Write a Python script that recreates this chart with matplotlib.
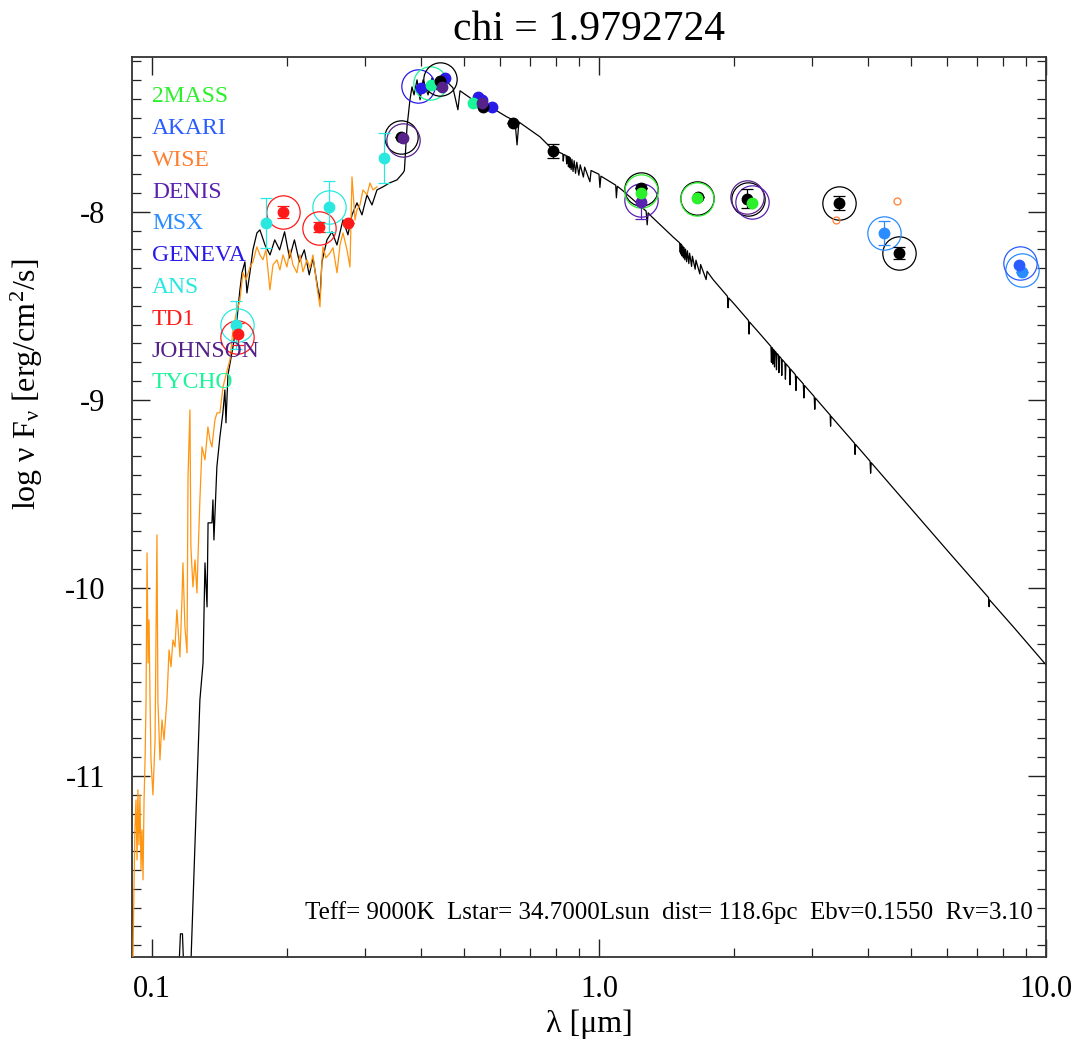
import numpy as np
import matplotlib
matplotlib.use("Agg")
import matplotlib.pyplot as plt
from matplotlib.ticker import MultipleLocator, FixedLocator, FuncFormatter, LogLocator, NullFormatter

plt.rcParams['font.family'] = ['Liberation Serif', 'DejaVu Serif']
plt.rcParams['mathtext.fontset'] = 'custom'
plt.rcParams['mathtext.rm'] = 'Liberation Serif'
plt.rcParams['mathtext.it'] = 'Liberation Serif:italic'
plt.rcParams['axes.unicode_minus'] = False

chi = 1.9792724
params_text = "Teff= 9000K  Lstar= 34.7000Lsun  dist= 118.6pc  Ebv=0.1550  Rv=3.10"

# survey names and their colours (legend, top left)
surveys = ['2MASS', 'AKARI', 'WISE', 'DENIS', 'MSX', 'GENEVA', 'ANS', 'TD1', 'JOHNSON', 'TYCHO']
survey_colors = ['#2bf02b', '#2a5cff', '#ff7f30', '#5a22b0', '#2a8cff',
                 '#2a1ae8', '#2ae8e0', '#ff1a1a', '#55228a', '#1af59a']

# IUE spectrum, wavelength [um] and log nu F_nu
iue_wave = [0.0907, 0.0912, 0.0916, 0.0921, 0.0926, 0.0930, 0.0935, 0.0940, 0.0945, 0.0950,
            0.0955, 0.0960, 0.0965, 0.0970, 0.0975, 0.0980, 0.0985, 0.0990, 0.0995, 0.1005,
            0.1016, 0.1026, 0.1031, 0.1042, 0.1053, 0.1064, 0.1080, 0.1092, 0.1103, 0.1114,
            0.1126, 0.1137, 0.1155, 0.1167, 0.1173, 0.1185, 0.1198, 0.1204, 0.1216, 0.1222,
            0.1235, 0.1248, 0.1261, 0.1267, 0.1280, 0.1294, 0.1314, 0.1334, 0.1348, 0.1362,
            0.1383, 0.1398, 0.1419, 0.1442, 0.1464, 0.1494, 0.1518, 0.1541, 0.1573, 0.1598,
            0.1623, 0.1657, 0.1682, 0.1717, 0.1744, 0.1771, 0.1799, 0.1836, 0.1865, 0.1904,
            0.1933, 0.1964, 0.2004, 0.2036, 0.2067, 0.2110, 0.2143, 0.2177, 0.2222, 0.2257,
            0.2292, 0.2340, 0.2376, 0.2401, 0.2413, 0.2450, 0.2502, 0.2541, 0.2594, 0.2634,
            0.2675, 0.2731, 0.2773, 0.2802, 0.2846, 0.2875, 0.2920, 0.2965, 0.3027, 0.3074,
            0.3122, 0.3187]
iue_flux = [-11.96, -11.553, -11.287, -11.128, -11.447, -11.074, -11.367, -11.101, -11.500, -11.287,
            -11.553, -11.128, -10.915, -10.596, -9.814, -10.399, -10.170, -10.596, -10.915, -11.101,
            -10.809, -9.718, -10.596, -10.915, -10.702, -10.809, -10.596, -10.330, -10.420, -10.277,
            -10.314, -10.117, -10.367, -10.064, -9.867, -10.207, -10.346, -9.410, -9.053, -9.782,
            -9.995, -9.851, -10.027, -9.851, -9.532, -9.250, -9.319, -9.144, -9.213, -9.250,
            -9.106, -9.069, -9.069, -8.931, -8.867, -8.787, -8.628, -8.548, -8.468, -8.324,
            -8.362, -8.293, -8.266, -8.186, -8.229, -8.255, -8.202, -8.415, -8.282, -8.255,
            -8.309, -8.229, -8.293, -8.202, -8.282, -8.324, -8.229, -8.319, -8.255, -8.298,
            -8.229, -8.399, -8.505, -8.255, -8.186, -8.245, -8.218, -8.191, -8.324, -8.176,
            -8.112, -8.202, -8.293, -7.814, -8.043, -7.989, -7.963, -7.883, -7.910, -7.846,
            -7.883, -7.867]

# Kurucz model, wavelength [um] and log nu F_nu (UV / optical part)
model_wave = [0.1140, 0.1158, 0.1170, 0.1185, 0.1222, 0.1280, 0.1301, 0.1314, 0.1328, 0.1335,
              0.1362, 0.1369, 0.1376, 0.1397, 0.1419, 0.1441, 0.1456, 0.1464, 0.1479, 0.1518,
              0.1549, 0.1573, 0.1590, 0.1614, 0.1631, 0.1656, 0.1682, 0.1717, 0.1744, 0.1790,
              0.1837, 0.1882, 0.1930, 0.1980, 0.2031, 0.2083, 0.2137, 0.2192, 0.2248, 0.2292,
              0.2352, 0.2375, 0.2400, 0.2463, 0.2527, 0.2593, 0.2675, 0.2744, 0.2802, 0.2875,
              0.2950, 0.3027, 0.3106, 0.3187, 0.3287, 0.3401, 0.3533, 0.3644, 0.3670, 0.3720,
              0.3777, 0.3817, 0.3857, 0.3917, 0.3979, 0.4041, 0.4146, 0.4232, 0.4342, 0.4407,
              0.4525, 0.4713, 0.4835, 0.4888, 0.5224, 0.5705, 0.6223, 0.6488, 0.6557, 0.6620,
              0.7379, 0.7889]
model_flux = [-12.20, -11.84, -11.84, -12.20, -12.00, -10.596, -10.399, -9.867, -10.101, -9.654,
              -9.654, -9.532, -9.745, -9.356, -9.197, -9.069, -8.947, -9.122, -8.867, -8.718,
              -8.574, -8.415, -8.324, -8.266, -8.431, -8.324, -8.202, -8.112, -8.096, -8.176,
              -8.229, -8.149, -8.202, -8.106, -8.245, -8.149, -8.266, -8.202, -8.335, -8.245,
              -8.415, -8.468, -8.266, -8.149, -8.106, -8.176, -8.043, -8.122, -8.016, -7.952,
              -8.016, -7.910, -7.963, -7.883, -7.867, -7.846, -7.830, -7.793, -7.780, -7.548,
              -7.404, -7.335, -7.378, -7.298, -7.404, -7.298, -7.378, -7.287, -7.351, -7.282,
              -7.298, -7.340, -7.457, -7.356, -7.404, -7.441, -7.495, -7.516, -7.644, -7.522,
              -7.601, -7.670]

# Kurucz model, infrared part with the hydrogen lines
model_ir_wave = [0.8200, 0.8300, 0.8320, 0.8345, 0.8440, 0.8467, 0.8490, 0.8520, 0.8545, 0.8570,
                 0.8598, 0.8625, 0.8665, 0.8700, 0.8750, 0.8800, 0.8863, 0.8920, 0.9015, 0.9080,
                 0.9229, 0.9290, 0.9546, 0.9600, 1.0000, 1.0049, 1.0100, 1.0900, 1.0938, 1.0990,
                 1.1253, 1.2750, 1.2818, 1.2880, 1.3138, 1.4640, 1.5150, 1.5195, 1.5240, 1.5262,
                 1.5300, 1.5346, 1.5390, 1.5443, 1.5500, 1.5561, 1.5620, 1.5705, 1.5770, 1.5885,
                 1.5950, 1.6114, 1.6180, 1.6412, 1.6480, 1.6811, 1.6880, 1.7367, 1.7450, 1.8000,
                 1.9380, 1.9446, 1.9510, 2.0000, 2.1600, 2.1661, 2.1720, 2.3000,
                 2.4250, 2.4310, 2.4370, 2.4440, 2.4490, 2.4540, 2.4650, 2.4700, 2.4750,
                 2.4900, 2.4953, 2.5010, 2.5210, 2.5264, 2.5320, 2.5580, 2.5640, 2.5700,
                 2.6060, 2.6126, 2.6190, 2.6680, 2.6751, 2.6820, 2.7500, 2.7583, 2.7660,
                 2.8650, 2.8730, 2.8810, 3.0300, 3.0392, 3.0480, 3.2900, 3.2970, 3.3040,
                 3.7300, 3.7405, 3.7500, 4.0400, 4.0523, 4.0650, 5.0000, 6.0000,
                 7.4400, 7.4598, 7.4800, 8.5000, 10.000]
model_ir_flux = [-7.686, -7.692, -7.730, -7.695, -7.700, -7.745, -7.703, -7.705, -7.760, -7.707,
                 -7.765, -7.712, -7.775, -7.720, -7.785, -7.728, -7.795, -7.736, -7.805, -7.750,
                 -7.815, -7.762, -7.840, -7.780, -7.800, -7.870, -7.810, -7.858, -7.925, -7.864,
                 -7.883, -7.996, -8.069, -8.005, -8.027, -8.133, -8.165, -8.215, -8.170, -8.225,
                 -8.175, -8.235, -8.182, -8.245, -8.190, -8.255, -8.198, -8.265, -8.207, -8.275,
                 -8.220, -8.290, -8.236, -8.305, -8.257, -8.330, -8.280, -8.360, -8.316, -8.360,
                 -8.449, -8.510, -8.458, -8.486, -8.578, -8.650, -8.586, -8.653,
                 -8.716, -8.800, -8.722, -8.725, -8.810, -8.731, -8.735, -8.825, -8.741,
                 -8.747, -8.840, -8.753, -8.762, -8.855, -8.768, -8.780, -8.870, -8.786,
                 -8.802, -8.890, -8.808, -8.830, -8.920, -8.836, -8.866, -8.950, -8.874,
                 -8.915, -8.990, -8.923, -8.982, -9.050, -8.990, -9.081, -9.140, -9.087,
                 -9.231, -9.290, -9.237, -9.326, -9.390, -9.334, -9.581, -9.798,
                 -10.052, -10.100, -10.064, -10.214, -10.409]

# ANS
ans_wave = [0.1541, 0.1799, 0.2489, 0.3304]
ans_flux = [-8.600, -8.059, -7.973, -7.713]
ans_err = [0.128, 0.133, 0.136, 0.133]
ans_mod_wave = [0.1549, 0.2489]
ans_mod_flux = [-8.601, -7.973]

# TD1
td1_wave = [0.1557, 0.1964, 0.2363, 0.2745]
td1_flux = [-8.649, -8.000, -8.080, -8.059]
td1_err = [0.06, 0.03, 0.025, 0.0]
td1_mod_wave = [0.1549, 0.1964, 0.2363]
td1_mod_flux = [-8.665, -8.000, -8.085]

# GENEVA
geneva_wave = [0.3998, 0.4521, 0.5361, 0.5473, 0.5762]
geneva_flux = [-7.340, -7.287, -7.388, -7.404, -7.441]
geneva_mod_wave = [0.3937]
geneva_mod_flux = [-7.330]

# TYCHO
tycho_wave = [0.4209, 0.5224]
tycho_flux = [-7.324, -7.420]
tycho_mod_wave = [0.4187]
tycho_mod_flux = [-7.314]

# JOHNSON
johnson_wave = [0.3644, 0.4452, 0.5473]
johnson_flux = [-7.606, -7.335, -7.420]
johnson_mod_wave = [0.3644, 2.143]
johnson_mod_flux = [-7.617, -7.920]

# other catalogue photometry (black)
other_wave = [0.3606, 0.4407, 0.5502, 0.6424, 0.7889, 1.2416, 1.665, 2.143, 3.443, 4.690]
other_flux = [-7.601, -7.303, -7.441, -7.527, -7.676, -7.872, -7.920, -7.931, -7.952, -8.218]
other_err = [0.0, 0.0, 0.0, 0.0, 0.037, 0.0, 0.0, 0.05, 0.037, 0.032]
other_mod_wave = [0.3606, 0.4407, 1.2416, 1.657, 2.150, 3.443, 4.690]
other_mod_flux = [-7.601, -7.293, -7.878, -7.926, -7.931, -7.952, -8.218]

# 2MASS
tmass_wave = [1.2416, 1.657, 2.199]
tmass_flux = [-7.899, -7.926, -7.952]
tmass_mod_wave = [1.2416, 1.657]
tmass_mod_flux = [-7.888, -7.931]

# DENIS
denis_wave = [1.2416]
denis_flux = [-7.947]
denis_err = [0.09]
denis_mod_wave = [1.2416, 2.199]
denis_mod_flux = [-7.936, -7.947]

# WISE (upper limits)
wise_wave = [3.390, 4.642]
wise_flux = [-8.043, -7.941]

# MSX
msx_wave = [4.341, 8.84]
msx_flux = [-8.112, -8.319]
msx_err = [0.064, 0.0]
msx_mod_wave = [4.341, 8.84]
msx_mod_flux = [-8.112, -8.309]

# AKARI
akari_wave = [8.70]
akari_flux = [-8.282]
akari_mod_wave = [8.75]
akari_mod_flux = [-8.271]

col = dict(zip(surveys, survey_colors))

fig = plt.figure(figsize=(10.78, 10.43), dpi=100)
ax = fig.add_axes([0.1224, 0.0825, 0.8479, 0.8629])

ax.plot(model_wave + model_ir_wave, model_flux + model_ir_flux, color='black', lw=0.9, zorder=2)
ax.plot(iue_wave, iue_flux, color='#ff9510', lw=0.9, zorder=3)


def phot(w, f, c, err=None, ms=7.5):
    if err is not None:
        ax.errorbar(w, f, yerr=err, fmt='none', ecolor=c, elinewidth=0.9,
                    capsize=4, capthick=0.9, zorder=5)
    ax.plot(w, f, 'o', color=c, ms=ms, mec=c, zorder=6)


def model_circle(w, f, c):
    ax.plot(w, f, 'o', mfc='none', mec=c, ms=24, mew=0.9, zorder=4)


phot(ans_wave, ans_flux, col['ANS'], ans_err)
model_circle(ans_mod_wave, ans_mod_flux, col['ANS'])
phot(td1_wave, td1_flux, col['TD1'], td1_err)
model_circle(td1_mod_wave, td1_mod_flux, col['TD1'])
phot(geneva_wave, geneva_flux, col['GENEVA'])
model_circle(geneva_mod_wave, geneva_mod_flux, col['GENEVA'])
phot(tycho_wave, tycho_flux, col['TYCHO'])
model_circle(tycho_mod_wave, tycho_mod_flux, col['TYCHO'])
phot(other_wave, other_flux, 'black', other_err)
model_circle(other_mod_wave, other_mod_flux, 'black')
phot(johnson_wave, johnson_flux, col['JOHNSON'])
model_circle(johnson_mod_wave, johnson_mod_flux, col['JOHNSON'])
phot(denis_wave, denis_flux, col['DENIS'], denis_err)
model_circle(denis_mod_wave, denis_mod_flux, col['DENIS'])
phot(tmass_wave, tmass_flux, col['2MASS'])
model_circle(tmass_mod_wave, tmass_mod_flux, col['2MASS'])
phot(msx_wave, msx_flux, col['MSX'], msx_err)
model_circle(msx_mod_wave, msx_mod_flux, col['MSX'])
phot(akari_wave, akari_flux, col['AKARI'])
model_circle(akari_mod_wave, akari_mod_flux, col['AKARI'])
ax.plot(wise_wave, wise_flux, 'o', mfc='none', mec=col['WISE'], ms=5, mew=0.9, zorder=6)

ax.set_xscale('log')
ax.set_xlim(0.0902, 10.0)
ax.set_ylim(-11.963, -7.176)

ax.xaxis.set_major_locator(FixedLocator([0.1, 1.0, 10.0]))
ax.xaxis.set_major_formatter(FuncFormatter(lambda v, p: '%.1f' % v))
ax.xaxis.set_minor_locator(LogLocator(base=10, subs=np.arange(2, 10)))
ax.xaxis.set_minor_formatter(NullFormatter())
ax.yaxis.set_major_locator(MultipleLocator(1))
ax.yaxis.set_minor_locator(MultipleLocator(0.1))
ax.yaxis.set_major_formatter(FuncFormatter(lambda v, p: '%d' % round(v)))

ax.tick_params(which='both', direction='in', top=True, right=True, color='#222222')
ax.tick_params(which='major', length=13, width=1.0, labelsize=22)
ax.tick_params(which='minor', length=6.5, width=0.9)
ax.tick_params(axis='x', which='major', pad=13)
ax.tick_params(axis='y', which='major', pad=19)
for s in ax.spines.values():
    s.set_linewidth(1.3)
    s.set_color('#333333')

ax.set_xlabel('λ [μm]', fontsize=23, labelpad=4)
ax.set_ylabel('log ν F$_{\\mathrm{ν}}$ [erg/cm$^{2}$/s]', fontsize=23)
ax.yaxis.set_label_coords(-0.095, 0.636)
ax.set_title('chi = %.7f' % chi, fontsize=30, pad=12)

for i, (name, c) in enumerate(zip(surveys, survey_colors)):
    ax.text(0.0219, 0.9556 - i * 0.0353, name, color=c, fontsize=17,
            transform=ax.transAxes, va='center', ha='left', zorder=7)

ax.text(0.985, 0.049, params_text, fontsize=18, transform=ax.transAxes,
        ha='right', va='center')

fig.savefig('out.png', dpi=100)
